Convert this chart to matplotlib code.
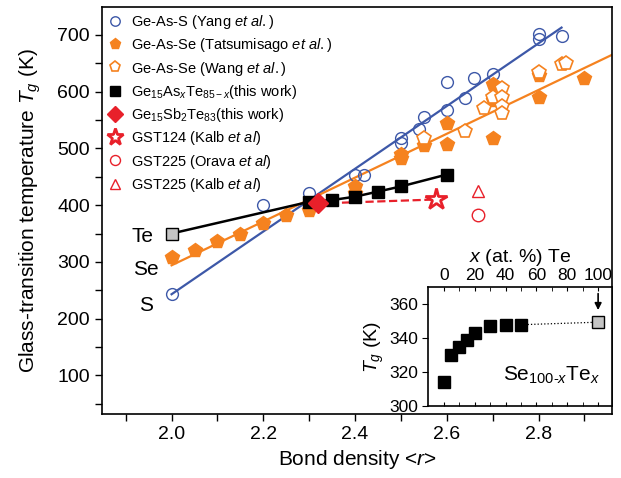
import numpy as np
import matplotlib
matplotlib.use('Agg')
from matplotlib import pyplot as plt

plt.rcParams['font.family'] = ['Liberation Sans', 'DejaVu Sans']
plt.rcParams['mathtext.fontset'] = 'custom'
plt.rcParams['mathtext.rm'] = 'Liberation Sans'
plt.rcParams['mathtext.it'] = 'Liberation Sans:italic'

# Ge-As-S (Yang et al.)
yang_r = [2.0, 2.2, 2.3, 2.4, 2.42, 2.5, 2.5, 2.54, 2.55, 2.6, 2.6, 2.64, 2.66, 2.7, 2.8, 2.8, 2.85]
yang_tg = [243, 401, 422, 454, 454, 519, 510, 534, 555, 568, 617, 589, 625, 631, 701, 693, 699]
yang_fit_r = [2.0, 2.85]
yang_fit_tg = [243, 713]

# Ge-As-Se (Tatsumisago et al.)
tats_r = [2.0, 2.05, 2.1, 2.15, 2.2, 2.25, 2.3, 2.4, 2.4, 2.5, 2.5, 2.55, 2.6, 2.6, 2.7, 2.7, 2.7, 2.8, 2.8, 2.9]
tats_tg = [308, 321, 337, 350, 368, 383, 391, 433, 422, 490, 483, 506, 508, 544, 518, 585, 613, 590, 629, 625]
# Ge-As-Se (Wang et al.)
wang_r = [2.55, 2.64, 2.68, 2.7, 2.72, 2.72, 2.72, 2.72, 2.8, 2.85, 2.86]
wang_tg = [518, 531, 572, 591, 606, 591, 575, 562, 634, 648, 651]
se_fit_r = [2.0, 2.96]
se_fit_tg = [294, 665]

# Ge15AsxTe85-x (this work), first point is pure Te
gete_r = [2.0, 2.3, 2.35, 2.4, 2.45, 2.5, 2.6]
gete_tg = [350, 406, 409, 415, 424, 433, 454]

# Ge15Sb2Te83 and GST
gst_r = [2.32]
gst_tg = [403]
gst124_r = [2.576]
gst124_tg = [410]
orava_r = [2.667]
orava_tg = [383]
kalb_r = [2.667]
kalb_tg = [425]

# inset: Se100-xTex
sete_x = [0, 4.5, 10, 15, 20, 30, 40, 50]
sete_tg = [314, 330, 335, 339, 343, 347.5, 348, 348]
te_x = [100]
te_tg = [349.5]

blue = '#3D58A8'
orange = '#F5821F'
red = '#E8202A'
grey = '#C4C4C4'

fig = plt.figure(figsize=(6.21, 4.78), dpi=100)
ax = fig.add_axes([0.164, 0.134, 0.8215, 0.851])

ax.plot(yang_fit_r, yang_fit_tg, color=blue, lw=1.6, zorder=2)
ax.plot(se_fit_r, se_fit_tg, color=orange, lw=1.6, zorder=2)
ax.plot(yang_r, yang_tg, 'o', ms=8.5, mfc='none', mec=blue, mew=1.0, zorder=3,
        label='Ge-As-S (Yang $et\\ al.$)')
ax.plot(tats_r, tats_tg, 'p', ms=10, color=orange, mec=orange, zorder=3,
        label='Ge-As-Se (Tatsumisago $et\\ al.$)')
ax.plot(wang_r, wang_tg, 'p', ms=10, mfc='white', mec=orange, mew=1.2, zorder=3,
        label='Ge-As-Se (Wang $et\\ al.$)')
ax.plot(gete_r, gete_tg, '-', color='black', lw=1.8, zorder=4)
ax.plot(gete_r[1:], gete_tg[1:], 's', ms=9, color='black', zorder=5,
        label='Ge$_{15}$As$_x$Te$_{85-x}$(this work)')
ax.plot(gete_r[:1], gete_tg[:1], 's', ms=9, mfc=grey, mec='black', mew=1.0, zorder=5)
ax.plot([gst_r[0], gst124_r[0]], [gst_tg[0], gst124_tg[0]], '--', color=red, lw=1.6, zorder=4)
ax.plot(gst_r, gst_tg, 'D', ms=10, color=red, zorder=6,
        label='Ge$_{15}$Sb$_2$Te$_{83}$(this work)')
ax.plot(gst124_r, gst124_tg, '*', ms=16, mfc='white', mec=red, mew=2.0, zorder=6,
        label='GST124 (Kalb $et\\ al$)')
ax.plot(orava_r, orava_tg, 'o', ms=9, mfc='none', mec=red, mew=1.0, zorder=6,
        label='GST225 (Orava $et\\ al$)')
ax.plot(kalb_r, kalb_tg, '^', ms=9, mfc='none', mec=red, mew=1.0, zorder=6,
        label='GST225 (Kalb $et\\ al$)')

ax.text(1.937, 345, 'Te', fontsize=15, ha='center', va='center')
ax.text(1.945, 287, 'Se', fontsize=15, ha='center', va='center')
ax.text(1.945, 224, 'S', fontsize=15, ha='center', va='center')

ax.set_xlim(1.848, 2.96)
ax.set_ylim(32, 749)
ax.set_xticks([2.0, 2.2, 2.4, 2.6, 2.8])
ax.set_xticks(np.arange(1.9, 2.96, 0.1), minor=True)
ax.set_yticks([100, 200, 300, 400, 500, 600, 700])
ax.set_yticks(np.arange(50, 749, 50), minor=True)
ax.xaxis.set_major_formatter(matplotlib.ticker.FormatStrFormatter('%.1f'))
ax.tick_params(direction='out', labelsize=14, length=5, width=1)
ax.tick_params(which='minor', direction='out', length=5, width=1)
ax.set_xlabel('Bond density <$r$>', fontsize=15)
ax.set_ylabel('Glass-transition temperature $T_g$ (K)', fontsize=15, labelpad=10)
for s in ax.spines.values():
    s.set_linewidth(1.2)

leg = ax.legend(loc='upper left', frameon=False, fontsize=10.5, numpoints=1,
                handlelength=1.0, handletextpad=0.6, labelspacing=0.36,
                borderaxespad=0.1, borderpad=0.3, markerscale=0.8)

# inset
ins = fig.add_axes([0.690, 0.1506, 0.2955, 0.248])
ins.plot([sete_x[-1], te_x[0]], [sete_tg[-1], te_tg[0]], ':', color='black', lw=0.9)
ins.plot(sete_x, sete_tg, 's', ms=8, color='black')
ins.plot(te_x, te_tg, 's', ms=9, mfc=grey, mec='black', mew=1.0)
ins.annotate('', xy=(100, 355), xytext=(100, 368),
             arrowprops=dict(arrowstyle='-|>', color='black', lw=1.2, mutation_scale=10))
ins.text(70, 318, 'Se$_{100\\text{-}x}$Te$_x$', fontsize=15, ha='center', va='center')
ins.set_xlim(-10, 109)
ins.set_ylim(300, 370)
ins.set_xticks([0, 20, 40, 60, 80, 100])
ins.set_xticks(np.arange(10, 100, 20), minor=True)
ins.set_yticks([300, 320, 340, 360])
ins.xaxis.tick_top()
ins.xaxis.set_label_position('top')
ins.tick_params(axis='x', which='both', direction='in', top=True, bottom=True, labelsize=12.5, length=3)
ins.tick_params(axis='y', direction='out', labelsize=12.5, length=4)
ins.set_xlabel('$x$ (at. %) Te', fontsize=14, labelpad=4)
ins.set_ylabel('$T_g$ (K)', fontsize=14, labelpad=2)
for s in ins.spines.values():
    s.set_linewidth(1.2)

fig.savefig('out.png', dpi=100)
